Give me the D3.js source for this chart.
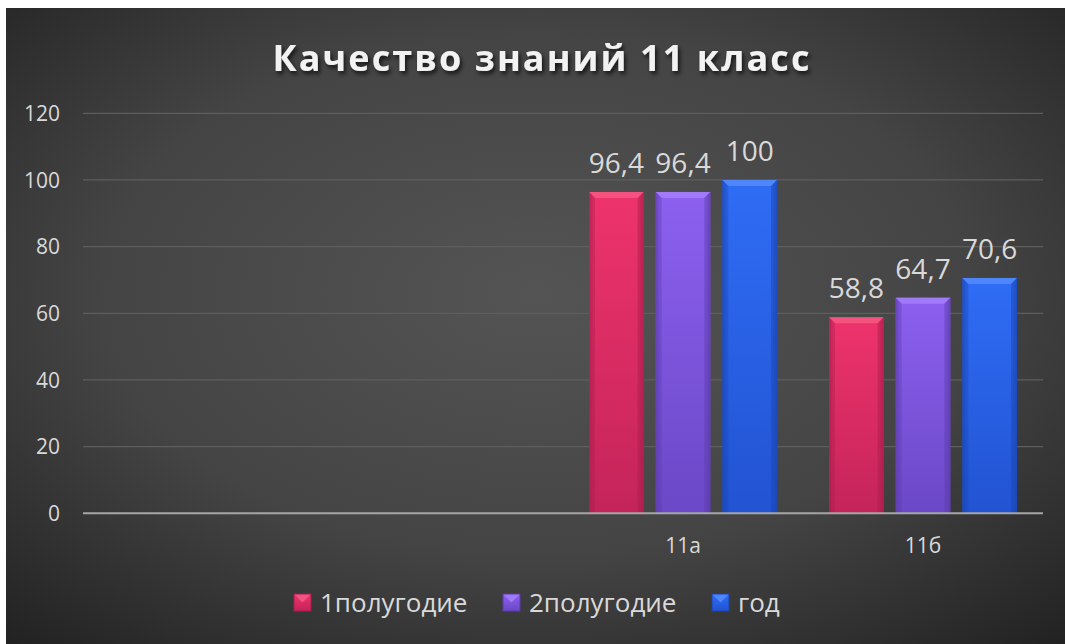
<!DOCTYPE html>
<html><head><meta charset="utf-8">
<script src="https://cdn.jsdelivr.net/npm/d3@7"></script>
<style>
html,body{margin:0;padding:0;background:#fff;}
svg{display:block;}
text{font-family:"Open Sans",sans-serif;}
</style></head>
<body>
<svg id="c" width="1065" height="644"></svg>
<script>
const categories = ["", "", "11а", "11б"];
const seriesNames = ["1полугодие", "2полугодие", "год"];
const s1 = [null, null, 96.4, 58.8];
const s2 = [null, null, 96.4, 64.7];
const s3 = [null, null, 100, 70.6];
const yTicks = [0, 20, 40, 60, 80, 100, 120];
const title = "Качество знаний 11 класс";

const seriesValues = [s1, s2, s3];
const colors = [
  {top:"#f4527f", light:"#ee336c", dark:"#c4245a", side:"#a81d4c"},
  {top:"#a07af8", light:"#8d60f0", dark:"#6a48c6", side:"#5b3cab"},
  {top:"#4f86fb", light:"#2f6df5", dark:"#2253d2", side:"#1b44b0"}
];

const svg = d3.select("#c");
const defs = svg.append("defs");

const bg = defs.append("radialGradient").attr("id","bg")
  .attr("cx","0.5").attr("cy","0.45").attr("r","0.75");
bg.append("stop").attr("offset","0").attr("stop-color","#545454");
bg.append("stop").attr("offset","0.55").attr("stop-color","#444444");
bg.append("stop").attr("offset","1").attr("stop-color","#212121");
svg.append("rect").attr("x",6).attr("y",8).attr("width",1059).attr("height",636).attr("fill","url(#bg)");

const shadow = defs.append("filter").attr("id","ts").attr("x","-10%").attr("y","-30%").attr("width","120%").attr("height","160%");
shadow.append("feDropShadow").attr("dx",2).attr("dy",3).attr("stdDeviation",2).attr("flood-color","#000").attr("flood-opacity",0.7);

colors.forEach((c,i)=>{
  const g = defs.append("linearGradient").attr("id","bar"+i).attr("x1",0).attr("y1",0).attr("x2",0).attr("y2",1);
  g.append("stop").attr("offset",0).attr("stop-color",c.light);
  g.append("stop").attr("offset",1).attr("stop-color",c.dark);
  const h = defs.append("linearGradient").attr("id","side"+i).attr("x1",0).attr("y1",0).attr("x2",1).attr("y2",0);
  h.append("stop").attr("offset",0).attr("stop-color",c.side).attr("stop-opacity",0.6);
  h.append("stop").attr("offset",0.08).attr("stop-color",c.side).attr("stop-opacity",0);
  h.append("stop").attr("offset",0.92).attr("stop-color",c.side).attr("stop-opacity",0);
  h.append("stop").attr("offset",1).attr("stop-color",c.side).attr("stop-opacity",0.6);
});

const plot = {left:83, right:1043, top:113.3, bottom:513.3};

const x = d3.scaleBand().domain(d3.range(categories.length)).range([plot.left, plot.right]).paddingInner(0).paddingOuter(0);
const y = d3.scaleLinear().domain([0,120]).range([plot.bottom, plot.top]);
const groupW = 188;
const x1 = d3.scaleBand().domain(d3.range(seriesNames.length)).range([0, groupW]).paddingInner(0.18);

svg.append("g").selectAll("line").data(yTicks.filter(t=>t>0)).join("line")
  .attr("x1",plot.left).attr("x2",plot.right)
  .attr("y1",d=>y(d)).attr("y2",d=>y(d))
  .attr("stroke","#5e5e5e").attr("stroke-width",1.3);

const yAxis = d3.axisLeft(y).tickValues(yTicks).tickSize(0).tickPadding(0);
const ya = svg.append("g").attr("transform",`translate(60,0)`).call(yAxis);
ya.select(".domain").remove();
ya.selectAll("text").attr("fill","#d9d9d9").style("font-size","21px").attr("dy","0.35em");

const barsG = svg.append("g");
seriesValues.forEach((vals,si)=>{
  vals.forEach((v,ci)=>{
    if(v==null) return;
    const gx = x(ci) + (x.bandwidth()-groupW)/2 + x1(si);
    const w = x1.bandwidth();
    const yt = y(v), yb = y(0);
    const h = yb-yt;
    const g = barsG.append("g");
    g.append("rect").attr("x",gx).attr("y",yt).attr("width",w).attr("height",h).attr("fill",`url(#bar${si})`);
    g.append("rect").attr("x",gx).attr("y",yt).attr("width",w).attr("height",h).attr("fill",`url(#side${si})`);
    const b = 6;
    g.append("path").attr("d",`M${gx},${yt} L${gx+w},${yt} L${gx+w-b},${yt+b} L${gx+b},${yt+b} Z`).attr("fill",colors[si].top);
    g.append("path").attr("d",`M${gx},${yt} L${gx+b},${yt+b} L${gx+b},${yb} L${gx},${yb} Z`).attr("fill",colors[si].side).attr("opacity",0.35);
    g.append("path").attr("d",`M${gx+w},${yt} L${gx+w-b},${yt+b} L${gx+w-b},${yb} L${gx+w},${yb} Z`).attr("fill",colors[si].side).attr("opacity",0.45);
    svg.append("text").attr("x",gx+w/2).attr("y",yt-19).attr("text-anchor","middle")
      .attr("fill","#d9d9d9").style("font-size","28px").text(String(v).replace(".",","));
  });
});

svg.append("line").attr("x1",plot.left).attr("x2",plot.right).attr("y1",y(0)).attr("y2",y(0))
  .attr("stroke","#a6a6a6").attr("stroke-width",2);

const xAxis = d3.axisBottom(x).tickFormat(i=>categories[i]).tickSize(0).tickPadding(0);
const xa = svg.append("g").attr("transform",`translate(0,${y(0)})`).call(xAxis);
xa.select(".domain").remove();
xa.selectAll("text").attr("fill","#d9d9d9").style("font-size","21px").attr("y",40).attr("dy",0);

const tt = svg.append("text").attr("x",541).attr("y",71).attr("text-anchor","middle")
  .attr("fill","#f2f2f2").style("font-size","36px").style("font-weight","bold")
  .attr("filter","url(#ts)").text(title);
const tw = tt.node().getComputedTextLength();
const ls = (537 - tw)/(title.length-1);
tt.style("letter-spacing", ls+"px").attr("x",541+ls/2);

const legendX = [294, 503, 712];
const lg = svg.append("g");
seriesNames.forEach((n,i)=>{
  const lx = legendX[i], ly = 594, s = 17;
  const c = colors[i];
  lg.append("rect").attr("x",lx).attr("y",ly).attr("width",s).attr("height",s).attr("fill",`url(#bar${i})`);
  lg.append("path").attr("d",`M${lx},${ly} L${lx+s},${ly} L${lx+s/2},${ly+s*0.5} Z`).attr("fill",c.top);
  lg.append("rect").attr("x",lx).attr("y",ly).attr("width",s).attr("height",s).attr("fill","none").attr("stroke",c.side).attr("stroke-width",1);
  lg.append("text").attr("x",lx+26).attr("y",ly+s/2).attr("dy","0.36em").attr("fill","#d9d9d9")
    .style("font-size","26px").text(n);
});
</script>
</body></html>
